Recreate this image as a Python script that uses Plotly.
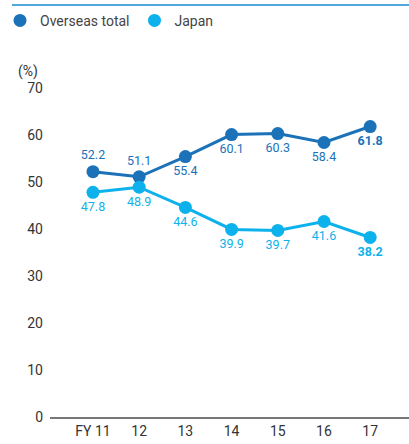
import plotly.graph_objects as go

years = ["FY 11", "12", "13", "14", "15", "16", "17"]
overseas = [52.2, 51.1, 55.4, 60.1, 60.3, 58.4, 61.8]
japan = [47.8, 48.9, 44.6, 39.9, 39.7, 41.6, 38.2]
series_names = ["Overseas total", "Japan"]
overseas_pos = ["top center", "top center", "bottom center", "bottom center", "bottom center", "bottom center", "bottom center"]
japan_pos = ["bottom center"] * 7

c_over = "#1b72b8"
c_jap = "#0db2ec"

def labels(vals):
    out = []
    for i, v in enumerate(vals):
        s = f"{v:.1f}"
        out.append(f"<b>{s}</b>" if i == len(vals) - 1 else s)
    return out

x = list(range(len(years)))
fig = go.Figure()
for vals, col, pos in [(overseas, c_over, overseas_pos), (japan, c_jap, japan_pos)]:
    fig.add_trace(go.Scatter(
        x=x, y=vals, mode="lines+markers+text", showlegend=False,
        line=dict(color=col, width=3), marker=dict(size=13, color=col),
        text=labels(vals), textposition=pos, hoverinfo="skip",
        textfont=dict(color=col, size=12.5, family="Roboto"),
    ))
# legend entries (marker only)
for name, col in zip(series_names, [c_over, c_jap]):
    fig.add_trace(go.Scatter(x=[None], y=[None], mode="markers", name=name,
                             marker=dict(size=13, color=col)))

fig.update_layout(
    template="none",
    width=409, height=444,
    margin=dict(l=50, r=0, t=88, b=27, autoexpand=False),
    paper_bgcolor="white", plot_bgcolor="white",
    font=dict(family="Roboto", color="#333333", size=14),
    showlegend=True, hovermode=False,
    legend=dict(orientation="h", xref="container", yref="container",
                x=-0.025, xanchor="left", y=0.953, yanchor="middle",
                font=dict(size=14, color="#444444"), itemsizing="trace",
                itemwidth=30, traceorder="normal",
                bgcolor="rgba(0,0,0,0)", borderwidth=0),
    xaxis=dict(range=[-0.93, 6.84], tickmode="array", tickvals=x, ticktext=years,
               showgrid=False, zeroline=False, showline=True, linecolor="#777777",
               linewidth=1.5, mirror=False, ticks="",
               automargin=False,
               tickfont=dict(size=14, color="#333333"), fixedrange=True),
    yaxis=dict(range=[0, 70], tickvals=[0, 10, 20, 30, 40, 50, 60, 70],
               showgrid=False, zeroline=False, showline=False, ticks="",
               ticklabelstandoff=6, automargin=False, fixedrange=True,
               tickfont=dict(size=14, color="#333333")),
    shapes=[dict(type="line", xref="paper", yref="paper", x0=-0.106, x1=1.0,
                 y0=1.252, y1=1.252, line=dict(color="#1a8ad4", width=1.5))],
    annotations=[dict(text="(%)", xref="paper", yref="paper", x=-0.06, y=1.05,
                      xanchor="center", yanchor="middle", showarrow=False,
                      font=dict(size=14, color="#333333"))],
)
fig.write_html("out.html", config={"displayModeBar": False},
               post_script="document.body.style.margin='0';")
